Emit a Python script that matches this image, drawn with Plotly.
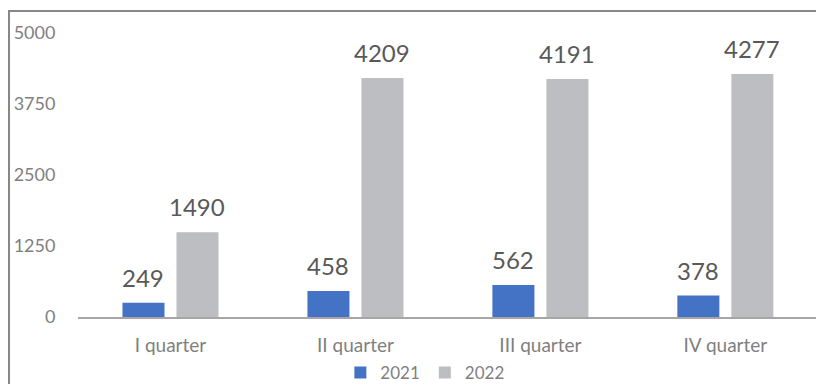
import plotly.graph_objects as go

quarters = ["I quarter", "II quarter", "III quarter", "IV quarter"]
values_2021 = [249, 458, 562, 378]
values_2022 = [1490, 4209, 4191, 4277]
y_ticks = [0, 1250, 2500, 3750, 5000]

BLUE = "#4472C4"
GREY = "#BDBEC1"
LABEL = "#595959"
AXIS_TXT = "#7F7F7F"
FONT = "Lato, 'Open Sans', sans-serif"

fig = go.Figure()
fig.add_trace(go.Bar(name="2021", x=quarters, y=values_2021, marker_color=BLUE,
                     marker_line_width=0))
fig.add_trace(go.Bar(name="2022", x=quarters, y=values_2022, marker_color=GREY,
                     marker_line_width=0))

# value labels above each bar
annotations = []
for i, q in enumerate(quarters):
    for vals, shift in ((values_2021, -0.146), (values_2022, 0.146)):
        annotations.append(dict(
            x=i + shift, y=vals[i], xref="x", yref="y", text=str(vals[i]),
            showarrow=False, yanchor="bottom", yshift=9,
            font=dict(family=FONT, size=24, color=LABEL)))

fig.update_layout(
    width=816, height=384,
    margin=dict(l=78, r=0, t=33, b=67, autoexpand=False),
    paper_bgcolor="white", plot_bgcolor="white",
    barmode="group", bargap=0.416, bargroupgap=0.222,
    font=dict(family=FONT, color=AXIS_TXT),
    annotations=annotations,
    showlegend=True,
    legend=dict(orientation="h", x=0.47, xanchor="center",
                yref="container", y=1 - 373 / 384, yanchor="middle",
                font=dict(size=17, color=AXIS_TXT),
                itemsizing="constant", traceorder="normal"),
    xaxis=dict(range=[-0.5, 3.49], showgrid=False, showline=True,
               linecolor="#A6A6A6", linewidth=2, ticks="outside",
               ticklen=10, tickcolor="rgba(0,0,0,0)", automargin=False,
               tickfont=dict(size=19, color=AXIS_TXT), zeroline=False),
    yaxis=dict(range=[0, 5000], tickvals=y_ticks, showgrid=False,
               showline=False, zeroline=False, ticks="outside", ticklen=18,
               tickcolor="rgba(0,0,0,0)", automargin=False,
               tickfont=dict(size=18, color=AXIS_TXT)),
    shapes=[dict(type="rect", xref="paper", yref="paper",
                 x0=(9 - 78) / 738, x1=1.05, y0=-0.5, y1=(317 - 11) / 284,
                 line=dict(color="#878787", width=2), fillcolor="rgba(0,0,0,0)",
                 layer="below")],
)

fig.write_html("out.html")
